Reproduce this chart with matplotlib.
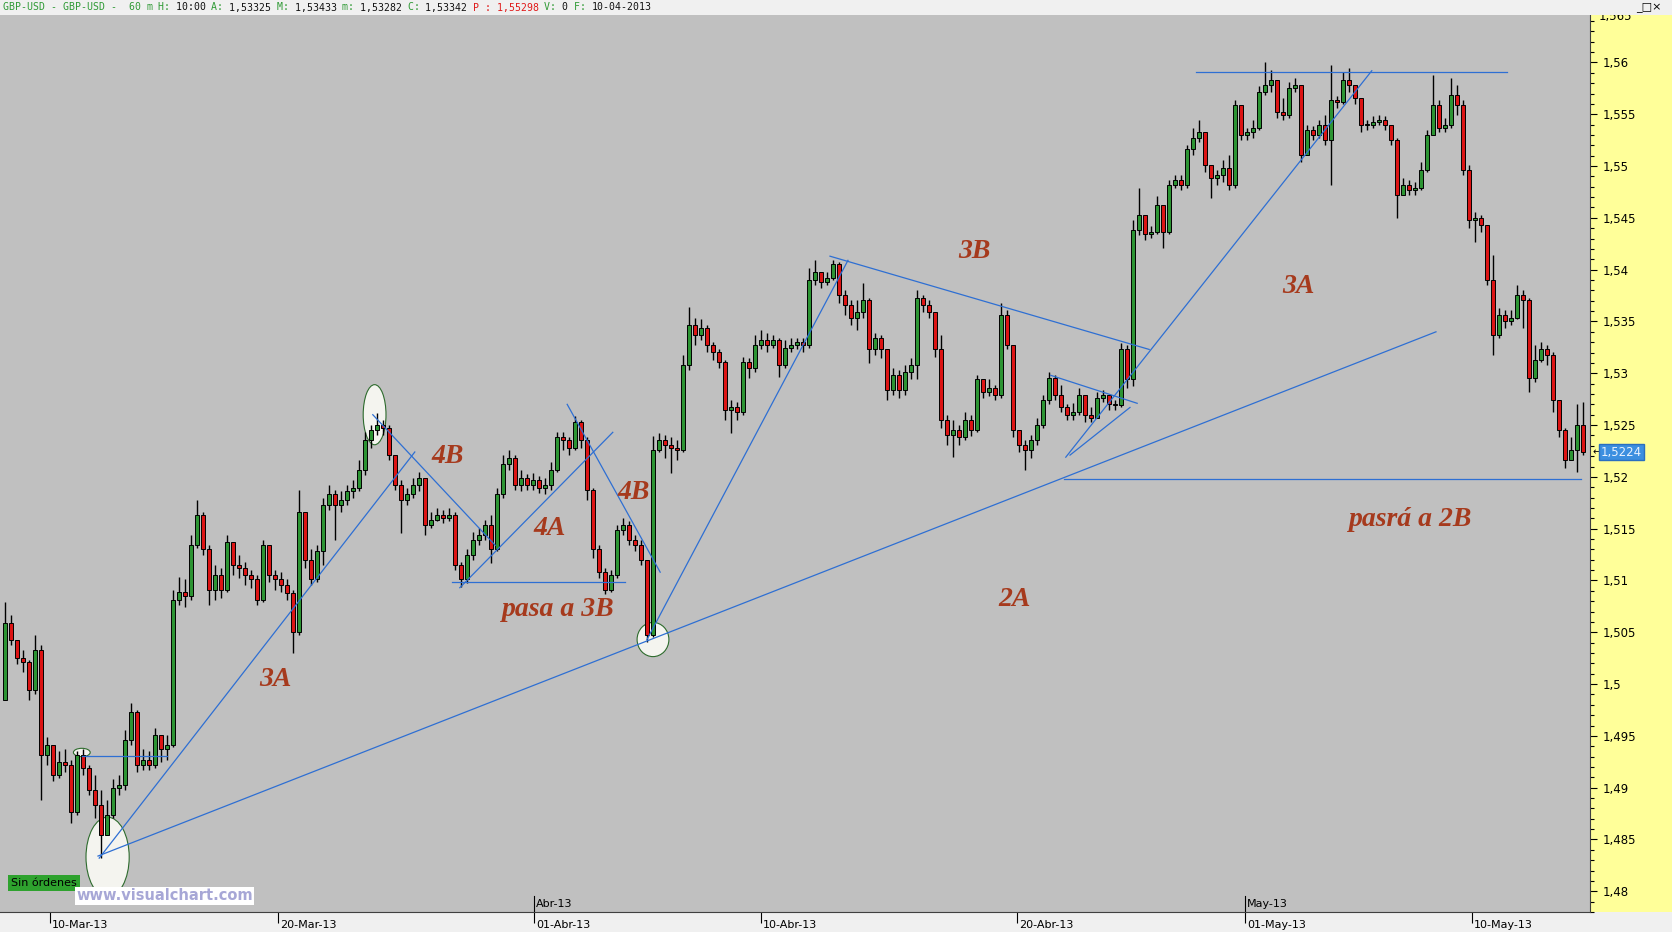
import numpy as np
import matplotlib
matplotlib.use("Agg")
from matplotlib import pyplot as plt
from matplotlib.patches import Ellipse, Rectangle
from matplotlib.transforms import blended_transform_factory, ScaledTranslation

# ---- data: GBP-USD, one candle per step ----
first_open = 1.4985

closes = [
    1.5059, 1.5043, 1.5025, 1.5021, 1.4994, 1.5033, 1.4932, 1.4941, 1.4912, 1.4925,
    1.4922, 1.4877, 1.4932, 1.4919, 1.4898, 1.4883, 1.4854, 1.4874, 1.4900, 1.4903,
    1.4946, 1.4973, 1.4922, 1.4927, 1.4922, 1.4951, 1.4937, 1.4941, 1.5081, 1.5089,
    1.5085, 1.5134, 1.5163, 1.5130, 1.5091, 1.5105, 1.5091, 1.5137, 1.5115, 1.5112,
    1.5105, 1.5101, 1.5081, 1.5134, 1.5105, 1.5101, 1.5096, 1.5088, 1.5050, 1.5166,
    1.5120, 1.5101, 1.5128, 1.5173, 1.5183, 1.5173, 1.5178, 1.5186, 1.5189, 1.5207,
    1.5236, 1.5245, 1.5250, 1.5247, 1.5221, 1.5192, 1.5178, 1.5183, 1.5192, 1.5199,
    1.5154, 1.5158, 1.5163, 1.5160, 1.5163, 1.5115, 1.5101, 1.5125, 1.5139, 1.5144,
    1.5154, 1.5130, 1.5183, 1.5212, 1.5218, 1.5192, 1.5199, 1.5192, 1.5197, 1.5189,
    1.5192, 1.5207, 1.5238, 1.5236, 1.5228, 1.5253, 1.5236, 1.5187, 1.5130, 1.5108,
    1.5091, 1.5105, 1.5149, 1.5154, 1.5139, 1.5134, 1.5120, 1.5047, 1.5226, 1.5236,
    1.5231, 1.5228, 1.5226, 1.5308, 1.5347, 1.5337, 1.5344, 1.5327, 1.5321, 1.5311,
    1.5265, 1.5267, 1.5263, 1.5311, 1.5305, 1.5327, 1.5332, 1.5327, 1.5332, 1.5308,
    1.5324, 1.5327, 1.5330, 1.5327, 1.5390, 1.5398, 1.5388, 1.5392, 1.5405, 1.5376,
    1.5366, 1.5353, 1.5359, 1.5371, 1.5323, 1.5334, 1.5323, 1.5284, 1.5298, 1.5284,
    1.5301, 1.5308, 1.5373, 1.5366, 1.5359, 1.5323, 1.5255, 1.5240, 1.5245, 1.5238,
    1.5255, 1.5245, 1.5294, 1.5282, 1.5286, 1.5279, 1.5356, 1.5327, 1.5245, 1.5231,
    1.5226, 1.5236, 1.5250, 1.5274, 1.5295, 1.5279, 1.5267, 1.5260, 1.5263, 1.5279,
    1.5260, 1.5257, 1.5276, 1.5279, 1.5270, 1.5269, 1.5323, 1.5294, 1.5438, 1.5453,
    1.5434, 1.5436, 1.5462, 1.5436, 1.5482, 1.5487, 1.5482, 1.5516, 1.5527, 1.5533,
    1.5501, 1.5488, 1.5491, 1.5498, 1.5482, 1.5559, 1.5530, 1.5533, 1.5537, 1.5571,
    1.5578, 1.5583, 1.5552, 1.5549, 1.5575, 1.5578, 1.5511, 1.5535, 1.5530, 1.5540,
    1.5525, 1.5564, 1.5562, 1.5583, 1.5578, 1.5566, 1.5540, 1.5540, 1.5543, 1.5544,
    1.5540, 1.5525, 1.5472, 1.5482, 1.5477, 1.5479, 1.5496, 1.5530, 1.5559, 1.5537,
    1.5540, 1.5569, 1.5559, 1.5496, 1.5448, 1.5450, 1.5443, 1.5390, 1.5337, 1.5356,
    1.5350, 1.5353, 1.5376, 1.5371, 1.5295, 1.5313, 1.5323, 1.5318, 1.5274, 1.5245,
    1.5216, 1.5226, 1.5250, 1.5224,
]

highs = [
    1.5079, 1.5067, 1.5043, 1.5033, 1.5023, 1.5047, 1.5038, 1.4949, 1.4941, 1.4935,
    1.4937, 1.4927, 1.4935, 1.4937, 1.4922, 1.4912, 1.4898, 1.4888, 1.4908, 1.4912,
    1.4956, 1.4982, 1.4975, 1.4937, 1.4935, 1.4958, 1.4951, 1.4951, 1.5091, 1.5103,
    1.5101, 1.5144, 1.5178, 1.5166, 1.5134, 1.5115, 1.5112, 1.5144, 1.5134, 1.5125,
    1.5118, 1.5110, 1.5105, 1.5139, 1.5134, 1.5110, 1.5108, 1.5101, 1.5091, 1.5187,
    1.5163, 1.5130, 1.5134, 1.5180, 1.5192, 1.5187, 1.5186, 1.5192, 1.5197, 1.5216,
    1.5243, 1.5250, 1.5262, 1.5255, 1.5250, 1.5221, 1.5197, 1.5189, 1.5199, 1.5205,
    1.5199, 1.5166, 1.5170, 1.5168, 1.5170, 1.5166, 1.5118, 1.5130, 1.5147, 1.5151,
    1.5158, 1.5163, 1.5189, 1.5221, 1.5226, 1.5221, 1.5207, 1.5203, 1.5204, 1.5201,
    1.5199, 1.5214, 1.5243, 1.5243, 1.5238, 1.5259, 1.5255, 1.5238, 1.5189, 1.5134,
    1.5112, 1.5110, 1.5154, 1.5160, 1.5157, 1.5144, 1.5139, 1.5120, 1.5239, 1.5242,
    1.5240, 1.5238, 1.5236, 1.5318, 1.5364, 1.5353, 1.5352, 1.5347, 1.5330, 1.5323,
    1.5313, 1.5274, 1.5272, 1.5316, 1.5315, 1.5337, 1.5342, 1.5339, 1.5337, 1.5334,
    1.5332, 1.5334, 1.5334, 1.5334, 1.5402, 1.5409, 1.5398, 1.5398, 1.5409, 1.5407,
    1.5380, 1.5371, 1.5371, 1.5387, 1.5373, 1.5339, 1.5337, 1.5323, 1.5305, 1.5303,
    1.5308, 1.5315, 1.5380, 1.5376, 1.5371, 1.5356, 1.5337, 1.5260, 1.5255, 1.5250,
    1.5263, 1.5260, 1.5298, 1.5294, 1.5294, 1.5289, 1.5368, 1.5361, 1.5327, 1.5243,
    1.5236, 1.5240, 1.5257, 1.5279, 1.5301, 1.5298, 1.5289, 1.5270, 1.5271, 1.5286,
    1.5279, 1.5267, 1.5282, 1.5284, 1.5279, 1.5274, 1.5329, 1.5327, 1.5448, 1.5479,
    1.5443, 1.5442, 1.5471, 1.5462, 1.5487, 1.5491, 1.5491, 1.5520, 1.5537, 1.5544,
    1.5533, 1.5501, 1.5496, 1.5506, 1.5511, 1.5564, 1.5559, 1.5537, 1.5544, 1.5577,
    1.5600, 1.5593, 1.5583, 1.5566, 1.5581, 1.5585, 1.5578, 1.5540, 1.5539, 1.5544,
    1.5549, 1.5598, 1.5568, 1.5591, 1.5595, 1.5578, 1.5566, 1.5544, 1.5548, 1.5549,
    1.5548, 1.5540, 1.5527, 1.5488, 1.5487, 1.5485, 1.5504, 1.5535, 1.5588, 1.5564,
    1.5546, 1.5585, 1.5578, 1.5564, 1.5501, 1.5456, 1.5453, 1.5443, 1.5414, 1.5363,
    1.5361, 1.5361, 1.5385, 1.5380, 1.5373, 1.5327, 1.5330, 1.5327, 1.5321, 1.5274,
    1.5247, 1.5238, 1.5270, 1.5272,
]

lows = [
    1.4985, 1.5038, 1.5019, 1.5012, 1.4985, 1.4990, 1.4888, 1.4922, 1.4906, 1.4909,
    1.4915, 1.4866, 1.4874, 1.4912, 1.4893, 1.4871, 1.4832, 1.4854, 1.4871, 1.4893,
    1.4898, 1.4941, 1.4915, 1.4917, 1.4917, 1.4919, 1.4925, 1.4927, 1.4939, 1.5076,
    1.5074, 1.5081, 1.5131, 1.5125, 1.5076, 1.5081, 1.5083, 1.5089, 1.5105, 1.5102,
    1.5096, 1.5093, 1.5076, 1.5079, 1.5099, 1.5091, 1.5089, 1.5081, 1.5030, 1.5047,
    1.5112, 1.5096, 1.5099, 1.5115, 1.5168, 1.5139, 1.5166, 1.5173, 1.5180, 1.5186,
    1.5202, 1.5228, 1.5240, 1.5240, 1.5216, 1.5187, 1.5146, 1.5173, 1.5180, 1.5186,
    1.5144, 1.5151, 1.5157, 1.5155, 1.5157, 1.5110, 1.5094, 1.5098, 1.5120, 1.5134,
    1.5139, 1.5117, 1.5128, 1.5180, 1.5207, 1.5187, 1.5186, 1.5187, 1.5187, 1.5184,
    1.5183, 1.5187, 1.5205, 1.5226, 1.5221, 1.5226, 1.5228, 1.5178, 1.5122, 1.5102,
    1.5087, 1.5089, 1.5102, 1.5144, 1.5134, 1.5128, 1.5115, 1.5041, 1.5045, 1.5224,
    1.5218, 1.5204, 1.5216, 1.5224, 1.5303, 1.5327, 1.5332, 1.5321, 1.5313, 1.5305,
    1.5255, 1.5242, 1.5255, 1.5260, 1.5295, 1.5301, 1.5323, 1.5321, 1.5324, 1.5296,
    1.5305, 1.5321, 1.5323, 1.5321, 1.5324, 1.5385, 1.5382, 1.5385, 1.5390, 1.5368,
    1.5356, 1.5347, 1.5342, 1.5353, 1.5310, 1.5318, 1.5315, 1.5274, 1.5279, 1.5276,
    1.5279, 1.5294, 1.5294, 1.5359, 1.5353, 1.5316, 1.5247, 1.5231, 1.5219, 1.5231,
    1.5236, 1.5239, 1.5243, 1.5276, 1.5278, 1.5274, 1.5276, 1.5323, 1.5238, 1.5224,
    1.5207, 1.5218, 1.5231, 1.5247, 1.5270, 1.5274, 1.5263, 1.5255, 1.5255, 1.5260,
    1.5253, 1.5253, 1.5257, 1.5272, 1.5265, 1.5265, 1.5267, 1.5286, 1.5288, 1.5433,
    1.5429, 1.5431, 1.5434, 1.5421, 1.5434, 1.5479, 1.5477, 1.5479, 1.5511, 1.5523,
    1.5494, 1.5469, 1.5482, 1.5485, 1.5477, 1.5479, 1.5525, 1.5525, 1.5527, 1.5535,
    1.5569, 1.5571, 1.5546, 1.5544, 1.5546, 1.5571, 1.5504, 1.5511, 1.5525, 1.5527,
    1.5520, 1.5482, 1.5556, 1.5560, 1.5571, 1.5560, 1.5533, 1.5535, 1.5537, 1.5540,
    1.5535, 1.5520, 1.5450, 1.5472, 1.5472, 1.5472, 1.5477, 1.5494, 1.5530, 1.5533,
    1.5533, 1.5537, 1.5549, 1.5491, 1.5440, 1.5427, 1.5436, 1.5385, 1.5318, 1.5334,
    1.5344, 1.5347, 1.5352, 1.5344, 1.5282, 1.5292, 1.5311, 1.5308, 1.5263, 1.5238,
    1.5209, 1.5218, 1.5205, 1.5221,
]

# date ticks (candle index where each day starts)
date_pos = [7.5, 45.5, 88.2, 126.0, 168.7, 206.7, 244.5]
date_labels = ["10-Mar-13", "20-Mar-13", "01-Abr-13", "10-Abr-13",
               "20-Abr-13", "01-May-13", "10-May-13"]
month_pos = [88.2, 206.7]
month_labels = ["Abr-13", "May-13"]

# hand-drawn trend lines: (x0, y0, x1, y1) in candle index / price
trend_lines = [
    (15.5, 1.4834, 238.5, 1.5340),
    (15.7, 1.4832, 68.3, 1.5224),
    (12.8, 1.4931, 27.0, 1.4931),
    (61.3, 1.5260, 81.7, 1.5134),
    (75.8, 1.5093, 101.3, 1.5243),
    (74.5, 1.5099, 103.3, 1.5099),
    (93.7, 1.5270, 109.2, 1.5108),
    (107.0, 1.5043, 140.5, 1.5409),
    (137.5, 1.5413, 190.7, 1.5323),
    (174.3, 1.5298, 188.7, 1.5271),
    (176.8, 1.5219, 227.8, 1.5592),
    (177.5, 1.5221, 187.5, 1.5267),
    (198.5, 1.5591, 250.3, 1.5591),
    (176.5, 1.5198, 262.7, 1.5198),
]

# highlighted turning points: (x, y, width, height)
marks = [
    (17.1, 1.4833, 7.2, 0.0077),
    (61.6, 1.5260, 3.8, 0.0058),
    (108.0, 1.5043, 5.3, 0.0033),
    (12.8, 1.4934, 2.8, 0.0008),
]

# wave labels
wave_x = [45.0, 73.8, 90.8, 92.3, 104.7, 161.6, 215.5, 168.2, 234.2]
wave_y = [1.5004, 1.5220, 1.5150, 1.5072, 1.5185, 1.5418, 1.5384, 1.5082, 1.5159]
wave_text = ["3A", "4B", "4A", "pasa a 3B", "4B", "3B", "3A", "2A", "pasrá a 2B"]

# ---- figure ----
W, H = 1672, 932
fig = plt.figure(figsize=(W / 100, H / 100), dpi=100, facecolor="#f0f0f0")
ax = fig.add_axes([0, 20 / H, 1590 / W, 897 / H])
ax.set_facecolor("#c0c0c0")

fig.patches.append(Rectangle((1590 / W, 20 / H), 82 / W, 897 / H, transform=fig.transFigure,
                             facecolor="#ffff99", edgecolor="none", zorder=-5))

closes = np.array(closes)
highs = np.array(highs)
lows = np.array(lows)
opens = np.r_[first_open, closes[:-1]]
idx = np.arange(len(closes))
up = closes >= opens

green = "#2c9433"
red = "#dc1414"
ax.vlines(idx, np.minimum(lows, np.minimum(opens, closes)),
          np.maximum(highs, np.maximum(opens, closes)),
          color="black", linewidth=1.0, zorder=3)
body_lo = np.minimum(opens, closes)
body_h = np.maximum(np.abs(closes - opens), 0.00008)
ax.bar(idx, body_h, bottom=body_lo, width=0.68, color=np.where(up, green, red),
       edgecolor="black", linewidth=0.7, zorder=4)

for x0, y0, x1, y1 in trend_lines:
    ax.plot([x0, x1], [y0, y1], color="#2e6fd3", linewidth=0.9, zorder=5)

for x, y, w, h in marks:
    ax.add_patch(Ellipse((x, y), w, h, facecolor="#f4f4ef", edgecolor="#2d6b2d",
                         linewidth=0.8, zorder=2))

for x, y, s in zip(wave_x, wave_y, wave_text):
    ax.text(x, y, s, color="#a63a1d", fontsize=20, fontstyle="italic", fontweight="bold",
            family=["Liberation Serif", "DejaVu Serif"], ha="center", va="center", zorder=6)

ax.set_xlim(-0.833, 264.17)
ax.set_ylim(1.47802, 1.56458)

for side in ("left", "top"):
    ax.spines[side].set_visible(False)
ax.spines["bottom"].set_color("#404040")
ax.spines["right"].set_color("#404040")

# price axis on the right
ax.yaxis.tick_right()
ax.set_yticks(np.arange(1.48, 1.5625, 0.005))
ax.set_yticks(np.arange(1.478, 1.565, 0.001), minor=True)
ax.set_yticklabels([("%.3f" % v).rstrip("0").rstrip(".").replace(".", ",")
                    for v in np.arange(1.48, 1.5625, 0.005)])
ax.tick_params(axis="y", which="major", direction="out", length=5, width=0.8, pad=4,
               labelsize=8.5, colors="black")
ax.tick_params(axis="y", which="minor", direction="out", length=3, width=0.8)

# 1,565 sits just under the header band and is cut by it
pt = blended_transform_factory(ax.transAxes, ax.transData)
ax.text(1.0, 1.565, "1,565", fontsize=8.5, va="center", ha="left", clip_on=False, zorder=1,
        transform=pt + ScaledTranslation(9 / 100, -6 / 100, fig.dpi_scale_trans))

# date axis
ax.set_xticks(date_pos)
ax.set_xticklabels(date_labels, ha="left")
ax.tick_params(axis="x", direction="out", length=8, width=0.8, pad=-2, labelsize=8)
for lbl in ax.get_xticklabels():
    lbl.set_transform(lbl.get_transform() + ScaledTranslation(2 / 100, 0, fig.dpi_scale_trans))

bt = blended_transform_factory(ax.transData, ax.transAxes)
for p, s in zip(month_pos, month_labels):
    ax.plot([p, p], [0, 16 / 897], transform=bt, color="black", linewidth=0.8, clip_on=False)
    ax.text(p + 0.3, 3 / 897, s, transform=bt, fontsize=8, ha="left", va="bottom")

# current price tag
last = closes[-1]
ax.text(1.0015, last, "\u2190", transform=pt, fontsize=7, va="center", ha="left", clip_on=False)
ax.text(1.0068, last, ("%.4f" % last).replace(".", ","), transform=pt, fontsize=8.5,
        color="#e8f2ff", va="center", ha="left", clip_on=False,
        bbox=dict(boxstyle="square,pad=0.15", facecolor="#3c8fe0", edgecolor="#2a6fc0"))

# header band on top of everything
fig.patches.append(Rectangle((0, (H - 15) / H), 1, 15 / H, transform=fig.transFigure,
                             facecolor="#f0f0f0", edgecolor="none", zorder=20))

# header line, fixed-width font: pieces placed by character column
G, K, R = "#2f9a35", "#111111", "#e01818"
header = [
    ("GBP-USD - GBP-USD -  60 m ", G), ("H: ", G), ("10:00 ", K), ("A: ", G),
    ("1,53325 ", K), ("M: ", G), ("1,53433 ", K), ("m: ", G), ("1,53282 ", K),
    ("C: ", G), ("1,53342 ", K), ("P : 1,55298 ", R), ("V: ", G), ("0 ", K),
    ("F: ", G), ("10-04-2013", K),
]
col = 0
for s, c in header:
    fig.text((3 + 5.95 * col) / W, (H - 7.5) / H, s, color=c, fontsize=7.1,
             family="DejaVu Sans Mono", ha="left", va="center", zorder=21)
    col += len(s)
fig.text(1636 / W, (H - 7) / H, "_\u25a1\u00d7", fontsize=8, ha="left", va="center",
         color="black", zorder=21)

# terminal badges
fig.text(11 / W, (H - 883) / H, "Sin órdenes", fontsize=8, color="black", ha="left", va="center",
         bbox=dict(boxstyle="square,pad=0.25", facecolor="#2ea22e", edgecolor="none"), zorder=10)
fig.text(76 / W, (H - 896) / H, "www.visualchart.com", fontsize=10.5, color="#a7a7d6",
         fontweight="bold", ha="left", va="center",
         bbox=dict(boxstyle="square,pad=0.1", facecolor="white", edgecolor="none"), zorder=10)

fig.savefig("out.png", dpi=100, facecolor=fig.get_facecolor())
